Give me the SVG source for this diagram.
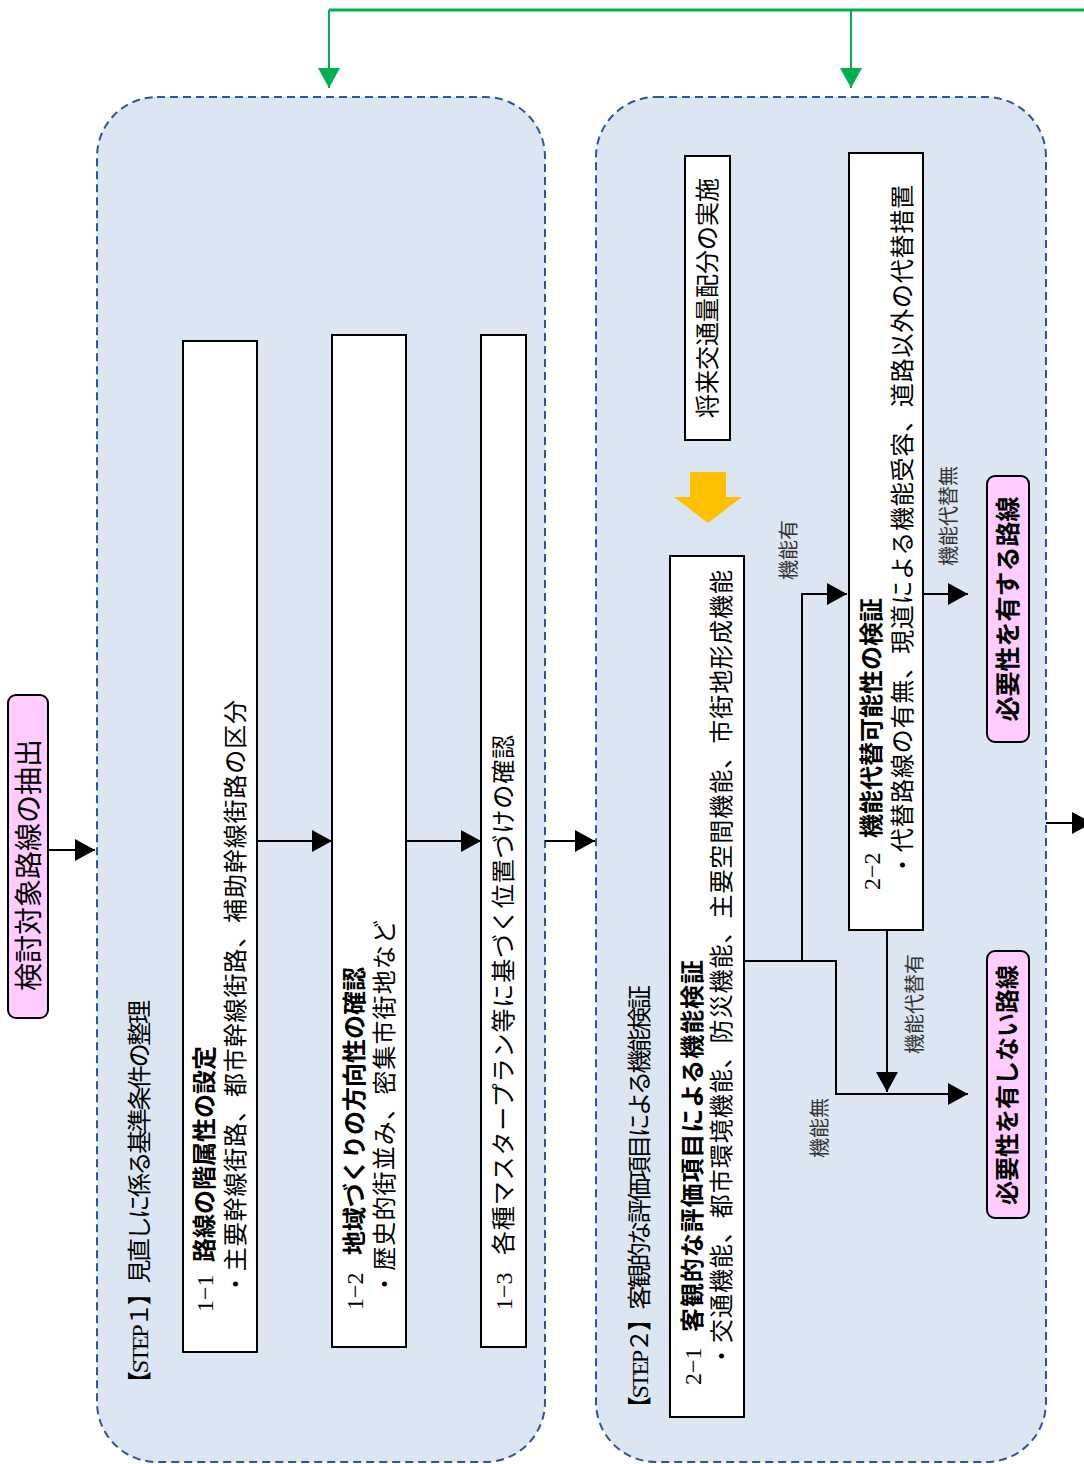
<svg xmlns="http://www.w3.org/2000/svg" width="1084" height="1464" viewBox="0 0 1084 1464">
<style>
.dash{fill:#dce6f2;stroke:#2f5597;stroke-width:2;stroke-dasharray:8 5}
.box{fill:#fff;stroke:#000;stroke-width:2}
.pink{fill:#ffccff;stroke:#000;stroke-width:2}
.t{font-family:"Liberation Serif","Noto Sans CJK JP",serif;font-size:24px;fill:#000;dominant-baseline:central}
.b{font-weight:bold}
.lab{font-family:"Noto Sans CJK JP",sans-serif;font-size:20px;fill:#333;dominant-baseline:central;text-anchor:middle}
.ln{fill:none;stroke:#000;stroke-width:2}
.g{fill:none;stroke:#00b050}
</style>
<defs>
<marker id="ah" markerUnits="userSpaceOnUse" markerWidth="20" markerHeight="22" refX="20" refY="11" orient="auto"><path d="M0,0 L20,11 L0,22 z" fill="#000"/></marker>
<marker id="gh" markerUnits="userSpaceOnUse" markerWidth="20" markerHeight="22" refX="20" refY="11" orient="auto"><path d="M0,0 L20,11 L0,22 z" fill="#00b050"/></marker>
</defs>
<rect width="1084" height="1464" fill="#fff"/>

<g id="step1">
<rect class="dash" x="97" y="97" width="448" height="1365" rx="60"/>
<text class="t" transform="rotate(-90)" x="-1395" y="140" textLength="395" lengthAdjust="spacing">【STEP１】見直しに係る基準条件の整理</text>
</g>
<g id="step2">
<rect class="dash" x="596" y="97" width="450" height="1365" rx="60"/>
<text class="t" transform="rotate(-90)" x="-1420" y="640" textLength="435" lengthAdjust="spacing">【STEP２】客観的な評価項目による機能検証</text>
</g>

<g id="extract">
<rect class="pink" x="8" y="695" width="40" height="323" rx="8"/>
<text class="t" style="font-size:28px;text-anchor:middle" transform="rotate(-90)" x="-865" y="29">検討対象路線の抽出</text>
</g>

<g id="box11">
<rect class="box" x="183" y="341" width="74" height="1011"/>
<text class="t" transform="rotate(-90)" x="-1312" y="205">1−1<tspan class="b" x="-1262">路線の階属性の設定</tspan></text>
<text class="t" transform="rotate(-90)" x="-1296" y="236" textLength="596" lengthAdjust="spacing">・主要幹線街路、都市幹線街路、補助幹線街路の区分</text>
</g>
<g id="box12">
<rect class="box" x="332" y="335" width="74" height="1012"/>
<text class="t" transform="rotate(-90)" x="-1310" y="355">1−2<tspan class="b" x="-1255">地域づくりの方向性の確認</tspan></text>
<text class="t" transform="rotate(-90)" x="-1296" y="385" textLength="376" lengthAdjust="spacing">・歴史的街並み、密集市街地など</text>
</g>
<g id="box13">
<rect class="box" x="481" y="335" width="45" height="1012"/>
<text class="t" transform="rotate(-90)" x="-1310" y="504">1−3<tspan x="-1255" textLength="520" lengthAdjust="spacing">各種マスタープラン等に基づく位置づけの確認</tspan></text>
</g>

<g id="traffic">
<rect class="box" x="685" y="156" width="45" height="284"/>
<text class="t" style="text-anchor:middle" transform="rotate(-90)" x="-298" y="708">将来交通量配分の実施</text>
</g>
<g id="yellow">
<polygon points="690,472 726,472 726,497 742,497 708,523 674,497 690,497" fill="#ffc000"/>
</g>

<g id="box21">
<rect class="box" x="670" y="556" width="74" height="861"/>
<text class="t" transform="rotate(-90)" x="-1385" y="693">2−1<tspan class="b" x="-1332" textLength="372" lengthAdjust="spacing">客観的な評価項目による機能検証</tspan></text>
<text class="t" transform="rotate(-90)" x="-1368" y="722" textLength="798" lengthAdjust="spacing">・交通機能、都市環境機能、防災機能、主要空間機能、市街地形成機能</text>
</g>
<g id="box22">
<rect class="box" x="849" y="153" width="74" height="777"/>
<text class="t" transform="rotate(-90)" x="-890" y="872">2−2<tspan class="b" x="-838">機能代替可能性の検証</tspan></text>
<text class="t" transform="rotate(-90)" x="-877" y="903" textLength="692" lengthAdjust="spacing">・代替路線の有無、現道による機能受容、道路以外の代替措置</text>
</g>

<g id="need">
<rect class="pink" x="987" y="476" width="42" height="266" rx="8"/>
<text class="t b" style="font-size:25px;text-anchor:middle" transform="rotate(-90)" x="-609" y="1008">必要性を有する路線</text>
</g>
<g id="noneed">
<rect class="pink" x="987" y="951" width="42" height="267" rx="8"/>
<text class="t b" style="font-size:24px;text-anchor:middle" transform="rotate(-90)" x="-1085" y="1008">必要性を有しない路線</text>
</g>

<g id="connectors">
<path class="g" stroke-width="3" d="M329,10 H1084"/>
<path class="g" stroke-width="2" d="M329,10 V88" marker-end="url(#gh)"/>
<path class="g" stroke-width="2" d="M851,10 V88" marker-end="url(#gh)"/>
<path class="ln" d="M48,850 H95" marker-end="url(#ah)"/>
<path class="ln" d="M257,841 H332" marker-end="url(#ah)"/>
<path class="ln" d="M406,841 H481" marker-end="url(#ah)"/>
<path class="ln" d="M545,841 H595" marker-end="url(#ah)"/>
<path class="ln" d="M744,961 H836 V1094 H968" marker-end="url(#ah)"/>
<path class="ln" d="M802,961 V594 H847" marker-end="url(#ah)"/>
<path class="ln" d="M887,930 V1092" marker-end="url(#ah)"/>
<path class="ln" d="M923,594 H968" marker-end="url(#ah)"/>
<path class="ln" d="M1046,823 H1092" marker-end="url(#ah)"/>
<text class="lab" transform="rotate(-90)" x="-550" y="787">機能有</text>
<text class="lab" transform="rotate(-90)" x="-516" y="947">機能代替無</text>
<text class="lab" transform="rotate(-90)" x="-1004" y="913">機能代替有</text>
<text class="lab" transform="rotate(-90)" x="-1128" y="818">機能無</text>
</g>
</svg>
